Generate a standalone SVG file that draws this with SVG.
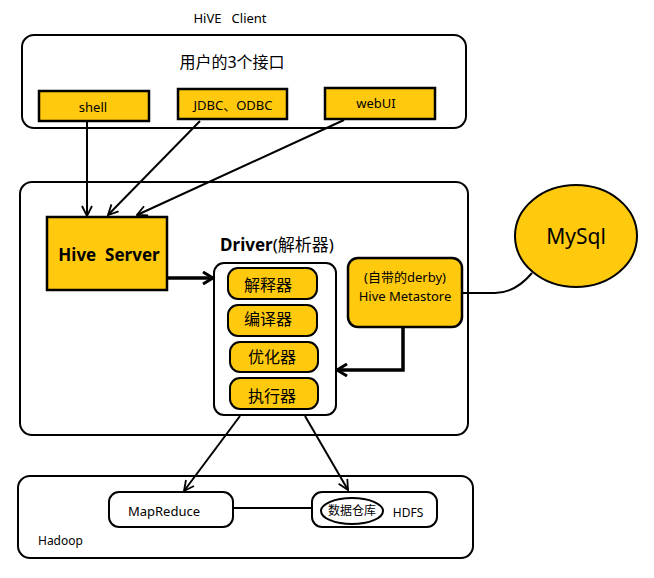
<svg xmlns="http://www.w3.org/2000/svg" width="654" height="578" viewBox="0 0 654 578">
<defs>
<style>
text{font-family:"Noto Sans","Noto Sans CJK SC",sans-serif;fill:#000;white-space:pre;}
.c{text-anchor:middle;}
.frame{fill:#fff;stroke:#000;stroke-width:2;}
.y{fill:#FFC90E;stroke:#000;stroke-width:2.5;}
.pill{fill:#FFC90E;stroke:#000;stroke-width:2;}
.ln{fill:none;stroke:#000;stroke-width:2;}
.thick{fill:none;stroke:#000;stroke-width:3.5;}
</style>
<marker id="ah" viewBox="0 0 12 12" refX="11" refY="6" markerWidth="12" markerHeight="12" markerUnits="userSpaceOnUse" orient="auto">
<path d="M1,1 L11,6 L1,11" fill="none" stroke="#000" stroke-width="1.8"/>
</marker>
<marker id="ahb" viewBox="0 0 14 14" refX="12" refY="7" markerWidth="14" markerHeight="14" markerUnits="userSpaceOnUse" orient="auto">
<path d="M2,1 L12,7 L2,13" fill="none" stroke="#000" stroke-width="3"/>
</marker>
</defs>
<rect width="654" height="578" fill="#fff"/>

<g id="client">
<text x="230" y="23" class="c" font-size="13" xml:space="preserve">HiVE   Client</text>
<rect class="frame" x="22" y="35" width="444" height="93" rx="12"/>
<text x="232" y="68" class="c" font-size="16">用户的3个接口</text>
</g>
<g id="shell"><rect class="y" x="39" y="91" width="110" height="30"/><text x="93" y="112" class="c" font-size="13">shell</text></g>
<g id="jdbc"><rect class="y" x="178" y="89" width="109" height="30"/><text x="233" y="110" class="c" font-size="13">JDBC、ODBC</text></g>
<g id="webui"><rect class="y" x="325" y="88" width="110" height="31"/><text x="376" y="108" class="c" font-size="13">webUI</text></g>

<g id="hive"><rect class="frame" x="20" y="182" width="448" height="253" rx="12"/></g>
<g id="hiveserver"><rect class="y" x="47" y="217" width="120" height="73"/><text x="109" y="261" class="c" font-size="17" font-weight="bold" xml:space="preserve">Hive  Server</text></g>
<g id="driver">
<text x="277" y="251" class="c" font-size="17"><tspan font-weight="bold">Driver</tspan>(解析器)</text>
<rect class="frame" x="214" y="263" width="122" height="152" rx="10"/>
<rect class="pill" x="228" y="268" width="89" height="31" rx="10"/><text x="268" y="291" class="c" font-size="16">解释器</text>
<rect class="pill" x="228" y="305" width="89" height="31" rx="10"/><text x="268" y="325" class="c" font-size="16">编译器</text>
<rect class="pill" x="230" y="342" width="88" height="30" rx="10"/><text x="272" y="363" class="c" font-size="16">优化器</text>
<rect class="pill" x="230" y="378" width="88" height="31" rx="10"/><text x="272" y="402" class="c" font-size="16">执行器</text>
</g>
<g id="metastore"><rect class="y" x="348" y="258" width="114" height="69" rx="10"/><text x="405" y="282" class="c" font-size="13">(自带的derby)</text><text x="405" y="301" class="c" font-size="13">Hive Metastore</text></g>
<g id="mysql"><ellipse cx="576" cy="236" rx="61" ry="51" fill="#FFC90E" stroke="#000" stroke-width="2"/><text x="576" y="244" class="c" font-size="21">MySql</text></g>

<g id="hadoop">
<rect class="frame" x="18" y="476" width="455" height="82" rx="12"/>
<text x="38" y="545" font-size="12">Hadoop</text>
</g>
<g id="mapreduce"><rect class="frame" x="109" y="492" width="124" height="35" rx="10"/><text x="164" y="516" class="c" font-size="13">MapReduce</text></g>
<g id="hdfs"><rect class="frame" x="312" y="492" width="125" height="35" rx="10"/><ellipse cx="352" cy="511" rx="31" ry="13" fill="#fff" stroke="#000" stroke-width="2"/><text x="352" y="515" class="c" font-size="12">数据仓库</text><text x="408" y="517" class="c" font-size="12">HDFS</text></g>

<g id="connectors">
<line class="ln" x1="87" y1="121" x2="87" y2="216" marker-end="url(#ah)"/>
<line class="ln" x1="200" y1="121" x2="108" y2="215" marker-end="url(#ah)"/>
<line class="ln" x1="344" y1="120" x2="137" y2="215" marker-end="url(#ah)"/>
<line class="thick" x1="167" y1="278" x2="213" y2="278" marker-end="url(#ahb)"/>
<polyline class="thick" points="403,327 403,370 337,370" marker-end="url(#ahb)"/>
<path class="ln" d="M462,293 L495,293 Q515,293 532,273"/>
<line class="ln" x1="240" y1="416" x2="184" y2="491" marker-end="url(#ah)"/>
<line class="ln" x1="305" y1="416" x2="348" y2="490" marker-end="url(#ah)"/>
<line class="ln" x1="233" y1="508" x2="312" y2="508"/>
</g>
</svg>
